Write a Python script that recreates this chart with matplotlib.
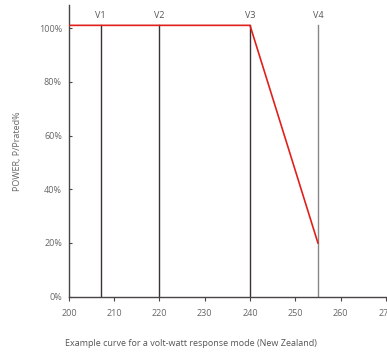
import matplotlib.pyplot as plt

# volt-watt curve points (V, % of rated power)
volts = [200, 240, 255]
power = [101, 101, 20]

# reference voltages
v_names = ['V1', 'V2', 'V3', 'V4']
v_values = [207, 220, 240, 255]
v_colors = ['#3b3333', '#3b3333', '#3b3333', '#8a8686']

xticks = [200, 210, 220, 230, 240, 250, 260, 270]
yticks = [0, 20, 40, 60, 80, 100]
ylabels = ['0%', '20%', '40%', '60%', '80%', '100%']

plt.rcParams['font.family'] = ['Open Sans', 'DejaVu Sans']

fig = plt.figure(figsize=(3.87, 3.52), dpi=100)
ax = fig.add_axes([0.178, 0.157, 0.819, 0.829])

for name, v, c in zip(v_names, v_values, v_colors):
    ax.plot([v, v], [0, 101], color=c, lw=1.0, zorder=2)
    ax.text(v, 103, name, ha='center', va='bottom', fontsize=6.5, color='#555555')

ax.plot(volts, power, color='#e0201c', lw=1.2, zorder=3)

ax.set_xlim(200, 270)
ax.set_ylim(0, 108.6)
ax.set_xticks(xticks)
ax.set_yticks(yticks)
ax.set_yticklabels(ylabels)

for s in ['top', 'right']:
    ax.spines[s].set_visible(False)
for s in ['left', 'bottom']:
    ax.spines[s].set_color('#4a4444')
    ax.spines[s].set_linewidth(1.0)

ax.tick_params(axis='y', direction='in', length=2.5, pad=5, labelsize=6.5,
               colors='#4a4444', labelcolor='#666666')
ax.tick_params(axis='x', direction='out', length=3, pad=6, labelsize=6.5,
               colors='#4a4444', labelcolor='#666666')

ax.set_ylabel('POWER, P/Prated%', fontsize=6.5, color='#666666', labelpad=12)
fig.text(0.494, 0.012, 'Example curve for a volt-watt response mode (New Zealand)',
         ha='center', va='bottom', fontsize=6.5, color='#555555')

fig.savefig('out.png', dpi=100)
